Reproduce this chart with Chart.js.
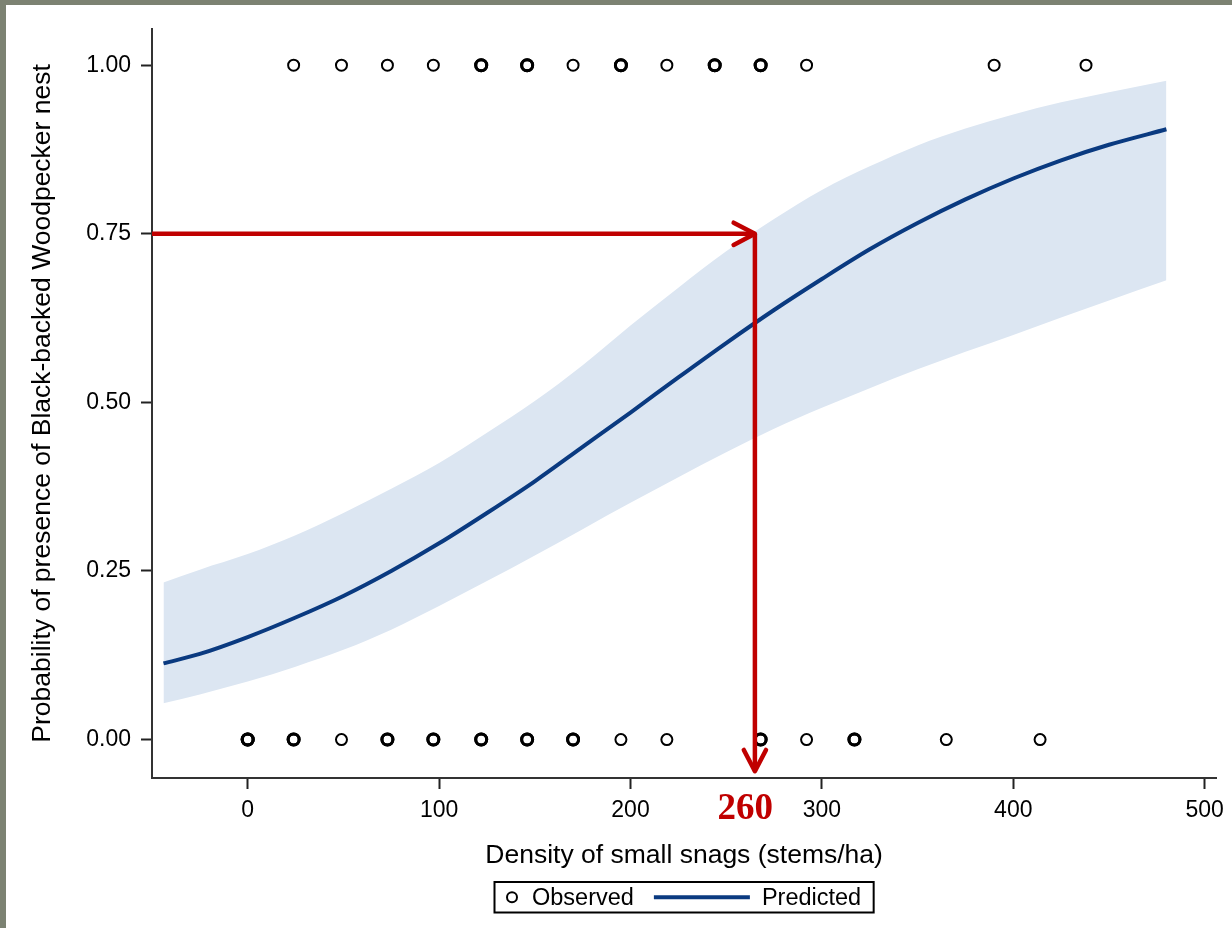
<!DOCTYPE html>
<html>
<head>
<meta charset="utf-8">
<script src="https://cdn.jsdelivr.net/npm/chart.js@4.4.1/dist/chart.umd.min.js"></script>
<style>
  html, body { margin: 0; padding: 0; }
  body { width: 1232px; height: 928px; background: #7c8272; position: relative; overflow: hidden; }
  #wrap { position: absolute; left: 6px; top: 5px; width: 1226px; height: 923px; background: #fff; }
</style>
</head>
<body>
<div id="wrap"><canvas id="snagChart" width="1226" height="923"></canvas></div>
<script>
// observed nests (1) and non-nests (0), density of small snags
const absentX = [0, 0, 0, 24, 24, 49, 73, 73, 97, 97, 122, 122, 146, 146, 170, 170, 195, 219, 268, 268, 292, 317, 317, 365, 414];
const presentX = [24, 49, 73, 97, 122, 122, 146, 146, 170, 195, 195, 219, 244, 244, 268, 268, 292, 390, 438];

// fitted curve and 95% band
const fitX = [-44, -25, 0, 25, 50, 75, 100, 125, 150, 175, 200, 225, 250, 275, 300, 325, 350, 375, 400, 425, 450, 480];
const predicted = [0.113, 0.127, 0.152, 0.181, 0.213, 0.250, 0.291, 0.336, 0.383, 0.434, 0.485, 0.537, 0.588, 0.637, 0.683, 0.727, 0.766, 0.801, 0.832, 0.859, 0.882, 0.905];
const upperCI = [0.233, 0.252, 0.275, 0.303, 0.336, 0.372, 0.410, 0.455, 0.502, 0.555, 0.614, 0.670, 0.724, 0.772, 0.815, 0.850, 0.881, 0.906, 0.927, 0.945, 0.960, 0.977];
const lowerCI = [0.054, 0.067, 0.086, 0.108, 0.133, 0.163, 0.198, 0.235, 0.273, 0.312, 0.351, 0.389, 0.426, 0.461, 0.492, 0.521, 0.549, 0.575, 0.600, 0.626, 0.651, 0.681];

const xTicks = [0, 100, 200, 300, 400, 500];
const yTicks = [0, 0.25, 0.5, 0.75, 1];

// red reading arrows
const arrowX = 265;
const arrowY = 0.75;
const arrowLabel = '260';
const arrowLabelX = 260;

const NAVY = '#0a3a80';
const RED = '#c00000';
const SANS = '"Liberation Sans", Arial, sans-serif';

const toPoints = (xs, ys) => xs.map((x, i) => ({ x, y: ys[i] }));
const countAt = (xs, x) => xs.filter(v => v === x).length;

const arrowHeads = {
    id: 'arrowHeads',
    afterDatasetsDraw(chart) {
        const ctx = chart.ctx;
        chart.data.datasets.forEach((ds, i) => {
            if (!ds.arrow) return;
            const pts = chart.getDatasetMeta(i).data;
            const a = pts[pts.length - 2], b = pts[pts.length - 1];
            const ang = Math.atan2(b.y - a.y, b.x - a.x);
            const len = 24, spread = 0.48;
            ctx.save();
            ctx.strokeStyle = RED;
            ctx.lineWidth = 4.5;
            ctx.lineCap = 'round';
            ctx.lineJoin = 'round';
            ctx.beginPath();
            ctx.moveTo(b.x - len * Math.cos(ang - spread), b.y - len * Math.sin(ang - spread));
            ctx.lineTo(b.x, b.y);
            ctx.lineTo(b.x - len * Math.cos(ang + spread), b.y - len * Math.sin(ang + spread));
            ctx.stroke();
            ctx.restore();
        });
    },
    afterDraw(chart) {
        const ctx = chart.ctx;
        const xs = chart.scales.x;
        ctx.save();
        ctx.fillStyle = RED;
        ctx.font = 'bold 37px "Liberation Serif", "Times New Roman", serif';
        ctx.textAlign = 'center';
        ctx.textBaseline = 'alphabetic';
        ctx.fillText(arrowLabel, xs.getPixelForValue(arrowLabelX), xs.top + 41);
        ctx.restore();
    }
};

// boxed legend under the x title
const boxLegend = {
    id: 'boxLegend',
    afterDraw(chart) {
        const ctx = chart.ctx;
        const area = chart.chartArea;
        ctx.save();
        ctx.font = '23.5px ' + SANS;
        const wObs = ctx.measureText('Observed').width;
        const wPred = ctx.measureText('Predicted').width;
        const total = 12 + 11 + 14.5 + wObs + 20 + 96 + 12 + wPred + 12.5;
        const left = (area.left + area.right) / 2 - total / 2;
        const top = 877, h = 30.5, cy = top + h / 2;
        ctx.strokeStyle = '#000';
        ctx.lineWidth = 2;
        ctx.strokeRect(left, top, total, h);

        let x = left + 12;
        ctx.beginPath();
        ctx.arc(x + 5.5, cy, 5, 0, Math.PI * 2);
        ctx.lineWidth = 2;
        ctx.stroke();
        x += 11 + 14.5;
        ctx.fillStyle = '#000';
        ctx.textBaseline = 'middle';
        ctx.fillText('Observed', x, cy + 1);
        x += wObs + 20;
        ctx.beginPath();
        ctx.moveTo(x, cy);
        ctx.lineTo(x + 96, cy);
        ctx.strokeStyle = NAVY;
        ctx.lineWidth = 4;
        ctx.stroke();
        x += 96 + 12;
        ctx.fillText('Predicted', x, cy + 1);
        ctx.restore();
    }
};

const ctx = document.getElementById('snagChart').getContext('2d');

new Chart(ctx, {
    type: 'line',
    data: {
        datasets: [
            {
                label: 'arrowH',
                arrow: true,
                data: [{ x: -50, y: arrowY }, { x: arrowX, y: arrowY }],
                borderColor: RED,
                borderWidth: 4.5,
                pointRadius: 0,
                fill: false
            },
            {
                label: 'arrowV',
                arrow: true,
                data: [{ x: arrowX, y: arrowY }, { x: arrowX, y: -0.047 }],
                borderColor: RED,
                borderWidth: 4.5,
                pointRadius: 0,
                fill: false
            },
            {
                label: 'Observed',
                type: 'scatter',
                data: toPoints(absentX, absentX.map(() => 0)).concat(toPoints(presentX, presentX.map(() => 1))),
                pointStyle: 'circle',
                pointRadius: 5.5,
                pointBackgroundColor: 'rgba(0,0,0,0)',
                pointBorderColor: '#000',
                pointBorderWidth: c => {
                    const p = c.raw;
                    if (!p) return 2;
                    const n = countAt(p.y === 0 ? absentX : presentX, p.x);
                    return n > 1 ? 3 : 2;
                },
                showLine: false
            },
            {
                label: 'Predicted',
                data: toPoints(fitX, predicted),
                borderColor: NAVY,
                borderWidth: 4,
                pointRadius: 0,
                cubicInterpolationMode: 'monotone',
                fill: false
            },
            {
                label: 'upper',
                data: toPoints(fitX, upperCI),
                borderWidth: 0,
                borderColor: 'rgba(0,0,0,0)',
                backgroundColor: '#dce6f2',
                pointRadius: 0,
                cubicInterpolationMode: 'monotone',
                fill: '+1'
            },
            {
                label: 'lower',
                data: toPoints(fitX, lowerCI),
                borderWidth: 0,
                borderColor: 'rgba(0,0,0,0)',
                pointRadius: 0,
                cubicInterpolationMode: 'monotone',
                fill: false
            }
        ]
    },
    options: {
        responsive: false,
        animation: false,
        events: [],
        layout: {
            padding: { left: 20.4, right: 12, top: 17, bottom: 56.1 }
        },
        plugins: {
            legend: { display: false },
            tooltip: { enabled: false },
            title: { display: false }
        },
        scales: {
            x: {
                type: 'linear',
                min: -50,
                max: 506,
                afterFit: s => { s.height = 93.9; },
                afterBuildTicks: s => { s.ticks = xTicks.map(v => ({ value: v })); },
                border: { display: true, color: '#333', width: 2 },
                grid: { drawOnChartArea: false, drawTicks: true, tickLength: 11, tickWidth: 2, tickColor: '#222' },
                ticks: { color: '#000', padding: 8, maxRotation: 0, font: { family: SANS, size: 23 } },
                title: {
                    display: true,
                    text: 'Density of small snags (stems/ha)',
                    color: '#000',
                    padding: 0,
                    font: { family: SANS, size: 26.5 }
                }
            },
            y: {
                type: 'linear',
                min: -0.057,
                max: 1.054,
                afterFit: s => { s.width = 125.6; },
                afterBuildTicks: s => { s.ticks = yTicks.map(v => ({ value: v })); },
                border: { display: true, color: '#333', width: 2 },
                grid: { drawOnChartArea: false, drawTicks: true, tickLength: 11, tickWidth: 2, tickColor: '#222' },
                ticks: {
                    color: '#000',
                    padding: 10,
                    font: { family: SANS, size: 23 },
                    callback: v => Number(v).toFixed(2)
                },
                title: {
                    display: true,
                    text: 'Probability of presence of Black-backed Woodpecker nest',
                    color: '#000',
                    padding: 0,
                    font: { family: SANS, size: 26.5 }
                }
            }
        }
    },
    plugins: [arrowHeads, boxLegend]
});
</script>
</body>
</html>
